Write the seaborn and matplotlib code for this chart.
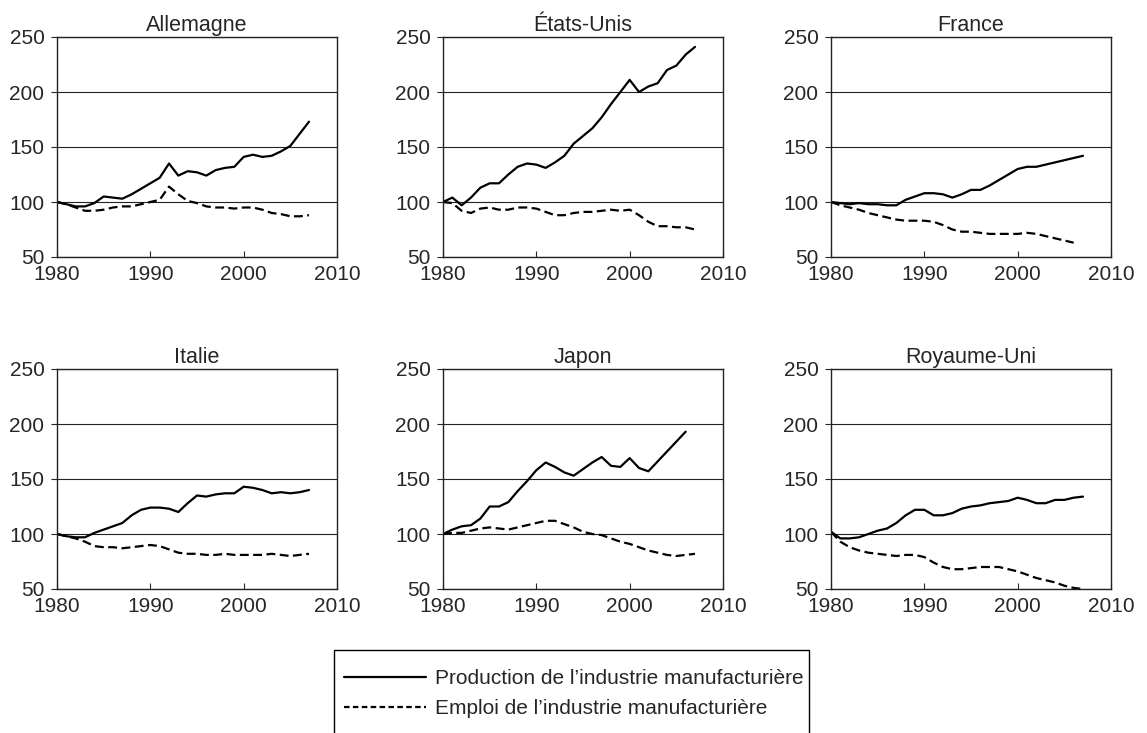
import pandas as pd
import matplotlib.pyplot as plt
import seaborn as sns
from matplotlib.lines import Line2D
from matplotlib.patches import Rectangle

sns.set_style("white")
plt.rcParams['font.family'] = ['Liberation Sans', 'DejaVu Sans']

# Index 1980 = 100
years = list(range(1980, 2008))

countries = ["Allemagne", "États-Unis", "France", "Italie", "Japon", "Royaume-Uni"]

prod_allemagne = [100, 98, 96, 96, 99, 105, 104, 103, 107, 112, 117, 122, 135, 124,
                  128, 127, 124, 129, 131, 132, 141, 143, 141, 142, 146, 151, 162, 173]
emp_allemagne = [100, 98, 95, 92, 92, 93, 95, 96, 96, 98, 100, 102, 114, 107,
                 101, 99, 96, 95, 95, 94, 95, 95, 93, 90, 89, 87, 87, 88]

prod_etats_unis = [100, 104, 97, 104, 113, 117, 117, 125, 132, 135, 134, 131, 136, 142,
                   153, 160, 167, 177, 189, 200, 211, 200, 205, 208, 220, 224, 234, 241]
emp_etats_unis = [100, 99, 92, 90, 94, 95, 93, 93, 95, 95, 94, 91, 88, 88,
                  90, 91, 91, 92, 93, 92, 93, 88, 82, 78, 78, 77, 77, 75]

prod_france = [100, 99, 98, 99, 98, 98, 97, 97, 102, 105, 108, 108, 107, 104,
               107, 111, 111, 115, 120, 125, 130, 132, 132, 134, 136, 138, 140, 142]
emp_france = [100, 97, 95, 93, 90, 88, 86, 84, 83, 83, 83, 82, 79, 75,
              73, 73, 72, 71, 71, 71, 71, 72, 71, 69, 67, 65, 63, None]

prod_italie = [100, 98, 97, 97, 101, 104, 107, 110, 117, 122, 124, 124, 123, 120,
               128, 135, 134, 136, 137, 137, 143, 142, 140, 137, 138, 137, 138, 140]
emp_italie = [100, 98, 96, 93, 89, 88, 88, 87, 88, 89, 90, 89, 86, 83,
              82, 82, 81, 81, 82, 81, 81, 81, 81, 82, 81, 80, 81, 82]

prod_japon = [100, 104, 107, 108, 114, 125, 125, 129, 139, 148, 158, 165, 161, 156,
              153, 159, 165, 170, 162, 161, 169, 160, 157, 166, 175, 184, 193, None]
emp_japon = [100, 101, 101, 103, 105, 106, 105, 104, 106, 108, 110, 112, 112, 109,
             106, 102, 100, 99, 96, 93, 91, 88, 85, 83, 81, 80, 81, 82]

prod_royaume_uni = [102, 96, 96, 97, 100, 103, 105, 110, 117, 122, 122, 117, 117, 119,
                    123, 125, 126, 128, 129, 130, 133, 131, 128, 128, 131, 131, 133, 134]
emp_royaume_uni = [102, 93, 88, 85, 83, 82, 81, 80, 81, 81, 79, 74, 70, 68,
                   68, 69, 70, 70, 70, 68, 66, 63, 60, 58, 56, 53, 51, 50]

production = [prod_allemagne, prod_etats_unis, prod_france,
              prod_italie, prod_japon, prod_royaume_uni]
emploi = [emp_allemagne, emp_etats_unis, emp_france,
          emp_italie, emp_japon, emp_royaume_uni]

label_prod = "Production de l\u2019industrie manufacturière"
label_emp = "Emploi de l\u2019industrie manufacturière"

W, H = 1147, 733
fig = plt.figure(figsize=(W / 100, H / 100), dpi=100)

lefts = [57, 443, 831]
tops = [37, 369]
aw, ah = 280, 220
dash = (0, (4, 2))
fs = 15

for i, name in enumerate(countries):
    left = lefts[i % 3]
    top = tops[i // 3]
    ax = fig.add_axes([left / W, (H - top - ah) / H, aw / W, ah / H])

    df = pd.DataFrame({"annee": years, "prod": production[i], "emp": emploi[i]}).astype(float)
    sns.lineplot(data=df, x="annee", y="prod", ax=ax, color="black", lw=1.6)
    sns.lineplot(data=df, x="annee", y="emp", ax=ax, color="black", lw=1.6, linestyle=dash)

    ax.set_xlim(1980, 2010)
    ax.set_ylim(50, 250)
    ax.set_xticks([1980, 1990, 2000, 2010])
    ax.set_yticks([50, 100, 150, 200, 250])
    ax.set_xlabel("")
    ax.set_ylabel("")
    ax.set_title(name, fontsize=15.5, pad=4)
    ax.yaxis.grid(True, color="#222222", lw=0.8)
    ax.xaxis.grid(False)
    for s in ax.spines.values():
        s.set_color("#222222")
        s.set_linewidth(1.0)
    ax.tick_params(axis="y", direction="out", length=4, width=0.8, pad=5, labelsize=fs, left=True)
    ax.tick_params(axis="x", direction="in", length=4, width=0.8, pad=6, labelsize=fs, bottom=True)

# legend box (open at the bottom edge of the image)
fig.patches.append(Rectangle((334 / W, -0.05), (809 - 334) / W, (H - 650) / H + 0.05,
                             transform=fig.transFigure, fill=False, edgecolor="black", lw=1.0))
handles = [Line2D([], [], color="black", lw=1.6),
           Line2D([], [], color="black", lw=1.6, linestyle=(0, (2.5, 1.5)))]
fig.legend(handles, [label_prod, label_emp], loc="upper left",
           bbox_to_anchor=(334 / W, 1 - 659 / H), frameon=False, fontsize=fs,
           handlelength=3.9, handletextpad=0.45, labelspacing=0.5, borderpad=0)

fig.savefig("out.png", dpi=100)
